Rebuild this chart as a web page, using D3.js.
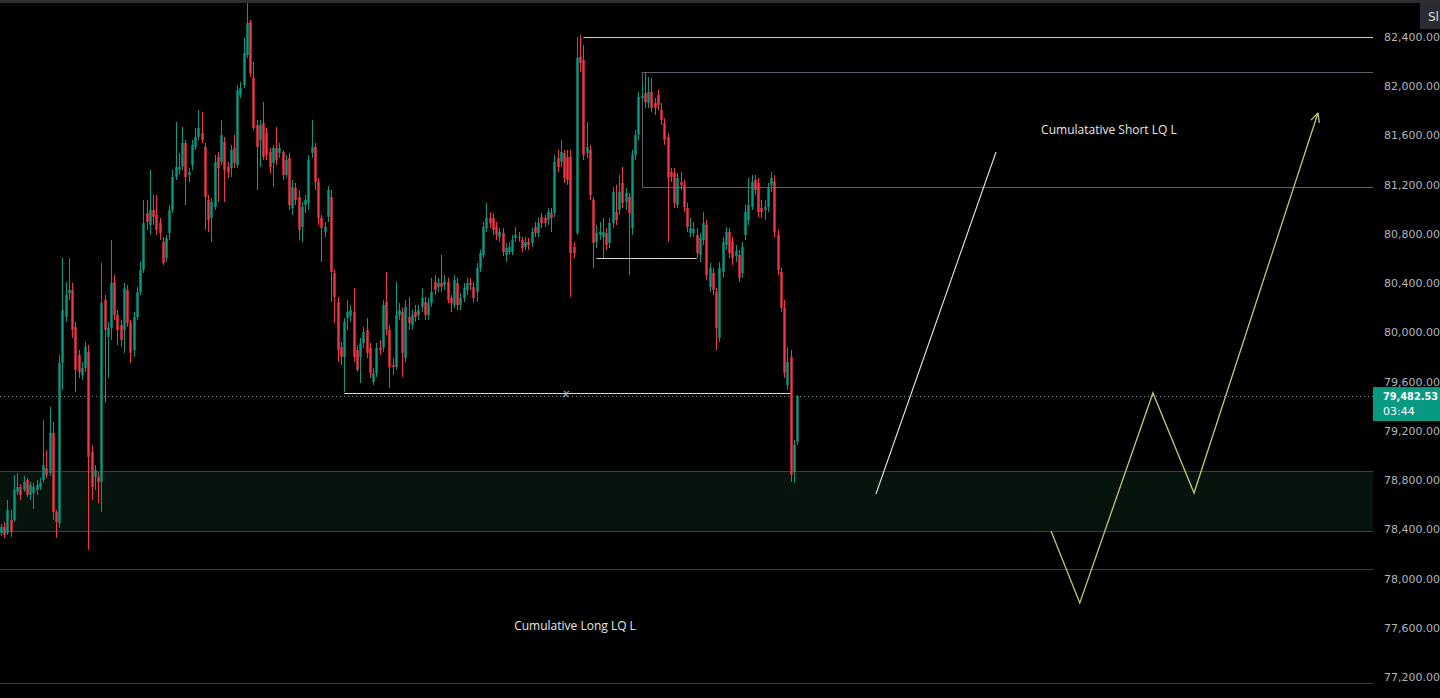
<!DOCTYPE html>
<html><head><meta charset="utf-8">
<script src="https://cdn.jsdelivr.net/npm/d3@7"></script>
<style>html,body{margin:0;padding:0;background:#000;overflow:hidden}</style>
</head><body><svg id="c" width="1440" height="698"></svg>
<script>
// ---- candle data (BTC, OHLC) ----
const opens=[78370,78419,78370,78476,78476,78704,78744,78720,78801,78679,78696,78720,78744,78801,78898,78858,79183,78541,78452,79752,80125,80320,80345,80044,79817,79654,79711,79841,79028,78825,78825,78785,80263,79963,80036,80410,80142,80061,80020,80345,80077,79857,80125,80328,80507,80970,80873,80995,80954,80889,80735,80605,80808,80995,81263,81320,81344,81539,81279,81360,81507,81588,81620,81507,81076,80930,81019,81425,81385,81547,81344,81336,81499,81360,81929,82010,82254,82522,82067,81685,81563,81702,81620,81466,81377,81499,81458,81466,81279,81417,81011,81173,81100,80857,81035,81052,81458,81507,81222,80930,80816,80938,81100,80483,80247,79882,79801,80117,80134,80166,79857,79801,79914,80020,79875,79597,79671,79875,79875,80247,80020,79736,79719,80142,80166,79792,80125,80061,80166,80142,80207,80247,80142,80239,80410,80369,80402,80385,80410,80280,80223,80402,80223,80280,80345,80402,80369,80328,80524,80629,80848,80930,80930,80857,80775,80808,80629,80653,80653,80767,80775,80751,80694,80735,80727,80857,80808,80938,80930,80913,80970,80970,81417,81385,81458,81425,81425,80694,80808,82238,82213,81458,81482,81076,80735,80792,80775,80808,80727,80889,80978,80995,81214,81060,81100,80848,81442,81604,81905,81945,81864,81953,81864,81929,81807,81702,81588,81303,81295,81035,81222,81198,81011,80808,80808,80792,80629,80751,80873,80369,80483,80328,79955,80491,80710,80816,80735,80621,80629,80483,80792,80913,81019,81238,81214,81011,80995,81019,81198,81222,80792,80491,80199,79573,79801,78866,79110];
const highs=[78443,78460,78638,78557,78842,78858,78768,78833,78817,78785,78777,78801,78817,79288,79045,79394,79272,78557,79817,80605,80410,80605,80402,80085,79857,79760,79922,79898,79085,78923,78866,80564,80304,80085,80751,80467,80182,80101,80402,80385,80101,80166,80369,80572,81076,81076,81320,81117,81117,80930,80775,80792,81035,81320,81710,81458,81669,81563,81336,81563,81661,81807,81791,81539,81117,81092,81442,81466,81726,81588,81385,81523,81604,82010,82035,82392,82685,82538,82197,81726,81726,81872,81661,81499,81523,81669,81539,81482,81442,81458,81238,81214,81157,81060,81117,81442,81726,81539,81255,80954,80897,81190,81157,80507,80288,79922,80117,80263,80223,80361,79898,79955,80044,80117,79914,79711,79914,79938,80263,80491,80061,79792,80410,80239,80199,80263,80288,80182,80223,80223,80361,80288,80280,80443,80467,80443,80629,80467,80443,80304,80467,80443,80320,80402,80443,80443,80410,80564,80670,80897,81052,80978,80970,80897,80848,80848,80727,80735,80792,80857,80816,80775,80775,80767,80848,80897,80930,80970,80954,81011,81011,81442,81482,81563,81482,81482,81482,80735,82400,82417,82335,81710,81523,81100,80873,80897,80930,80848,80930,81182,81198,81279,81344,81173,81133,81482,81645,81953,82027,82116,82075,82067,81905,81970,81864,81742,81620,81336,81336,81295,81303,81238,81052,80930,80897,80848,80808,80978,80913,80564,80524,80361,80572,80775,80857,80848,80775,80710,80670,80735,81035,81255,81279,81279,81255,81076,81076,81214,81303,81279,80832,80524,80263,79875,79857,79126,79491];
const lows=[78346,78330,78354,78338,78460,78679,78638,78704,78663,78638,78565,78679,78720,78777,78817,78833,78476,78330,78411,79532,80085,80263,79955,79516,79630,79614,79679,78233,78638,78720,78614,78541,79427,79630,79938,80101,79898,79882,79833,80044,79752,79801,80101,80304,80483,80832,80792,80873,80792,80751,80548,80572,80751,80970,81238,81279,81320,81035,81222,81320,81482,81563,81539,80832,80816,80735,80995,81060,81360,81060,81255,81263,81336,81336,81905,81986,82230,82075,81645,81157,81344,81401,81401,81295,81182,81360,81417,81238,81255,80995,80954,81035,80751,80735,80970,80995,81417,81157,80873,80572,80775,80897,80247,80077,79760,79736,79516,80020,80085,79760,79679,79589,79875,79792,79630,79573,79638,79817,79841,79979,79549,79654,79695,80101,79638,79760,80020,80020,80085,80101,80166,80101,80101,80207,80304,80328,80328,80345,80239,80166,80199,80182,80182,80247,80304,80345,80247,80247,80491,80605,80816,80848,80792,80751,80735,80621,80572,80629,80629,80735,80735,80653,80670,80670,80694,80775,80775,80848,80857,80873,80816,80938,81303,81344,81214,81198,80288,80605,80792,82116,81401,81417,81076,80524,80686,80751,80605,80670,80686,80848,80873,80954,81011,80995,80467,80792,81401,81563,81872,81824,81824,81791,81767,81807,81685,81523,80735,81222,81011,81011,81157,80978,80816,80775,80775,80605,80572,80710,80426,80328,80304,79857,79922,80443,80670,80605,80548,80572,80410,80443,80751,80873,80995,81117,80938,80930,80913,80978,81141,80775,80467,80166,79630,79532,78785,78777,79085];
const closes=[78419,78354,78557,78379,78720,78744,78679,78785,78679,78760,78744,78760,78777,78923,78842,79183,78541,78460,79752,80182,80304,80345,80020,79695,79679,79711,79882,78988,78744,78882,78785,80239,80020,80036,80402,80142,80020,79938,80361,80077,79833,80125,80328,80507,80889,80897,80995,80938,80832,80808,80564,80767,80995,81263,81344,81344,81539,81263,81303,81523,81588,81661,81563,81100,80913,81060,81385,81336,81604,81320,81303,81482,81377,81970,81986,82270,82514,82108,81661,81507,81685,81425,81442,81344,81499,81401,81499,81279,81401,81035,81182,81076,80832,81019,81076,81401,81507,81222,80930,80848,80857,81157,80491,80288,79857,79801,80085,80166,80182,79801,79695,79914,80004,79833,79671,79671,79875,79857,80223,80020,79719,79719,80142,80182,79833,80207,80077,80142,80125,80182,80280,80142,80239,80328,80345,80402,80369,80410,80263,80239,80426,80223,80280,80361,80402,80385,80280,80524,80645,80857,80930,80889,80832,80792,80816,80653,80686,80694,80751,80792,80767,80686,80735,80710,80816,80808,80889,80889,80889,80978,80930,81385,81344,81466,81255,81238,80645,80645,82230,82189,81442,81507,81117,80727,80808,80816,80816,80710,80889,81141,80913,81141,81052,81133,80970,81442,81604,81913,81921,81872,81953,81824,81824,81848,81726,81563,81255,81263,81052,81255,81198,81019,80857,80848,80840,80645,80767,80889,80467,80524,80345,80036,80524,80735,80816,80645,80605,80662,80443,80694,80978,81035,81222,81157,80978,80978,81019,81173,81255,80816,80507,80199,79671,79760,78842,79085,79482.53];

// ---- axis ticks ----
const priceTicks=[82400,82000,81600,81200,80800,80400,80000,79600,79200,78800,78400,78000,77600,77200];
const lastPrice=79482.53;
const countdown="03:44";

// ---- drawings (bar index / price) ----
const rayPrices=[82400,82116,81182];       // horizontal rays to right edge
const rayStarts=[180,198,198];
const segPrices=[80605,79508];             // short horizontal segments
const segStarts=[184,106];
const segEnds=[215,244];
const fullPrices=[78078,77152];            // full-width horizontal lines
const zoneTop=78874, zoneBottom=78387;     // shaded zone
const boxLeft=198;                          // vertical side of upper box
const whiteLegIdx=[270.4,307.5];
const whiteLegPx=[78687,81466];
const pathIdx=[324.5,333.4,356,368.7,407];
const pathPx=[78387,77802,79508,78695,81783];
const labelTexts=["Cumulatative Short LQ L","Cumulative Long LQ L"];
const labelIdx=[342.4,177.4];
const labelPx=[81645,77615];

const svg=d3.select("#c");
const W=1440,H=698,plotR=1373,plotTop=3;
const x=d3.scaleLinear().domain([0,opens.length-1]).range([1,797]);
const y=d3.scaleLinear().domain([77200,82400]).range([677,37]);
const UP="#089981",DN="#f23645";

svg.append("rect").attr("width",W).attr("height",H).attr("fill","#000");
svg.append("defs").append("clipPath").attr("id","plot").append("rect")
  .attr("x",0).attr("y",plotTop).attr("width",plotR).attr("height",H-plotTop);
const g=svg.append("g").attr("clip-path","url(#plot)");

// zone
g.append("rect").attr("x",0).attr("width",plotR)
  .attr("y",y(zoneTop)).attr("height",y(zoneBottom)-y(zoneTop)).attr("fill","#07130d");
[zoneTop,zoneBottom].forEach(p=>g.append("line").attr("x1",0).attr("x2",plotR)
  .attr("y1",Math.round(y(p))+0.5).attr("y2",Math.round(y(p))+0.5).attr("stroke","#3b3f46").attr("stroke-width",1));
fullPrices.forEach(p=>g.append("line").attr("x1",0).attr("x2",plotR)
  .attr("y1",Math.round(y(p))+0.5).attr("y2",Math.round(y(p))+0.5).attr("stroke","#3b3f46").attr("stroke-width",1));

// rays
const rayColors=["#c9c9c9","#5b5e66","#5b5e66"];
rayPrices.forEach((p,i)=>g.append("line").attr("x1",x(rayStarts[i])).attr("x2",plotR)
  .attr("y1",Math.round(y(p))+0.5).attr("y2",Math.round(y(p))+0.5).attr("stroke",rayColors[i]).attr("stroke-width",1));
g.append("line").attr("x1",Math.round(x(boxLeft))+0.5).attr("x2",Math.round(x(boxLeft))+0.5)
  .attr("y1",Math.round(y(rayPrices[1]))+0.5).attr("y2",Math.round(y(rayPrices[2]))+0.5).attr("stroke","#5b5e66");

// current price dotted line
g.append("line").attr("x1",0).attr("x2",plotR).attr("y1",Math.round(y(lastPrice))+0.5).attr("y2",Math.round(y(lastPrice))+0.5)
  .attr("stroke","#6d8f86").attr("stroke-dasharray","1,3").attr("stroke-width",1);

// candles
const idx=d3.range(opens.length);
g.selectAll(".wick").data(idx).join("line")
  .attr("x1",i=>Math.round(x(i))+0.5).attr("x2",i=>Math.round(x(i))+0.5)
  .attr("y1",i=>y(highs[i])).attr("y2",i=>y(lows[i]))
  .attr("stroke",i=>closes[i]>=opens[i]?UP:DN).attr("stroke-width",1);
g.selectAll(".body").data(idx).join("rect")
  .attr("x",i=>Math.round(x(i))+0.5-1.2).attr("width",2.4)
  .attr("y",i=>y(Math.max(opens[i],closes[i])))
  .attr("height",i=>Math.max(1,Math.abs(y(opens[i])-y(closes[i]))))
  .attr("fill",i=>closes[i]>=opens[i]?UP:DN);

// short segments (white)
segPrices.forEach((p,i)=>g.append("line").attr("x1",x(segStarts[i])).attr("x2",x(segEnds[i]))
  .attr("y1",Math.round(y(p))+0.5).attr("y2",Math.round(y(p))+0.5).attr("stroke","#d6d6d6").attr("stroke-width",1));
g.append("text").attr("x",x(174.6)).attr("y",y(segPrices[1])+4).attr("text-anchor","middle")
  .attr("fill","#b8b8b8").attr("font-family","DejaVu Sans").attr("font-style","italic").attr("font-size",11).text("x");

// white leg
g.append("line").attr("x1",x(whiteLegIdx[0])).attr("y1",y(whiteLegPx[0]))
  .attr("x2",x(whiteLegIdx[1])).attr("y2",y(whiteLegPx[1])).attr("stroke","#e6e6e6").attr("stroke-width",1.1);

// projected path
const pts=pathIdx.map((v,i)=>[x(v),y(pathPx[i])]);
g.append("path").attr("d",d3.line()(pts)).attr("fill","none").attr("stroke","#c4c47a").attr("stroke-width",1.3);
const [ax,ay]=pts[pts.length-1],[bx,by]=pts[pts.length-2];
const ang=Math.atan2(ay-by,ax-bx);
[ang+Math.PI-0.45,ang+Math.PI+0.45].forEach(a=>g.append("line").attr("x1",ax).attr("y1",ay)
  .attr("x2",ax+10*Math.cos(a)).attr("y2",ay+10*Math.sin(a)).attr("stroke","#c4c47a").attr("stroke-width",1.3));

// labels
labelTexts.forEach((t,i)=>g.append("text").attr("x",x(labelIdx[i])).attr("y",y(labelPx[i])+4)
  .attr("text-anchor","middle").attr("fill","#e8e8e8").attr("font-family","Open Sans").attr("font-weight",500)
  .attr("font-size",12).text(t));

// price axis
const ax_=svg.append("g").attr("transform",`translate(${plotR},0)`)
  .call(d3.axisRight(y).tickValues(priceTicks).tickFormat(d3.format(",.2f")).tickSize(0).tickPadding(11));
ax_.select(".domain").remove();
ax_.selectAll("text").attr("fill","#b2b5be").attr("font-family","DejaVu Sans").attr("font-size",11);

// last price tag
const ty=y(lastPrice);
svg.append("rect").attr("x",plotR).attr("y",ty-9).attr("width",W-plotR).attr("height",34).attr("fill",UP);
svg.append("text").attr("x",plotR+10).attr("y",ty+4).attr("fill","#fff").attr("font-family","DejaVu Sans")
  .attr("font-weight","bold").attr("font-size",10.3).attr("textLength",55).attr("lengthAdjust","spacingAndGlyphs")
  .text(d3.format(",.2f")(lastPrice));
svg.append("text").attr("x",plotR+10).attr("y",ty+19).attr("fill","#fff").attr("font-family","DejaVu Sans")
  .attr("font-size",11).text(countdown);

// top bar & button
svg.append("rect").attr("x",0).attr("y",0).attr("width",W).attr("height",3).attr("fill","#2e2e2e");
svg.append("rect").attr("x",1420).attr("y",3).attr("width",20).attr("height",26).attr("fill","#2a2c31");
svg.append("text").attr("x",1428).attr("y",21).attr("fill","#ddd").attr("font-family","DejaVu Sans").attr("font-size",12).text("Sl");
</script></body></html>
